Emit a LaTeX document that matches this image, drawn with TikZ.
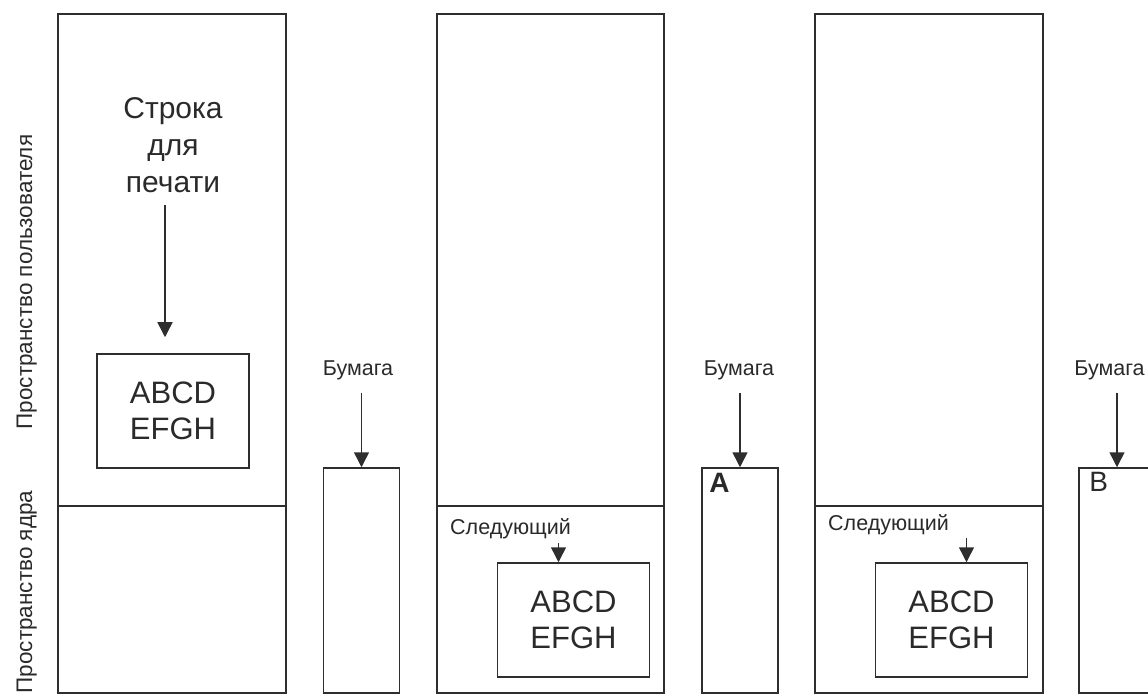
\documentclass[tikz,border=0pt]{standalone}
\usepackage{fontspec}
\setmainfont{Liberation Sans}
\usepackage{xcolor}
\usepackage{tikz}
\usetikzlibrary{arrows.meta,positioning,calc}
\definecolor{spLine}{HTML}{2E2E2E}
\definecolor{spInk}{HTML}{2A2A2A}
\tikzset{
  frame box/.style={draw=spLine,line width=1.5pt},
  buffer box/.style={frame box,minimum width=152pt,minimum height=114pt,inner sep=0pt,
    align=center,text=spInk,font=\fontsize{31}{36}\selectfont},
  paper box/.style={frame box,minimum width=76pt,minimum height=225pt,inner sep=0pt},
  title text/.style={align=center,inner sep=0pt,text=spInk,font=\fontsize{30}{37}\selectfont},
  small label/.style={inner sep=1pt,text=spInk,font=\fontsize{21.5}{26}\selectfont},
  side label/.style={rotate=90,anchor=base,inner sep=0pt,text=spInk,font=\fontsize{22.5}{27}\selectfont},
  letter mark/.style={anchor=base west,inner sep=0pt,text=spInk,font=\fontsize{28}{32}\selectfont},
  feed arrow/.style={-{Triangle[length=15pt,width=15pt]},line width=1.5pt,draw=spLine}
}
\begin{document}
\begin{tikzpicture}[x=1pt,y=-1pt]
\useasboundingbox (0,0) rectangle (1148,700);
\clip (0,0) rectangle (1148,700);
% side labels
\node[side label] (userspace) at (32,282) {Пространство пользователя};
\node[side label] (kernelspace) at (32,592) {Пространство ядра};
% step 1
\draw[frame box] (58,14) rectangle (286,693); \draw[frame box] (58,506) -- (286,506);
\node[title text] (line1) at (173,145) {Строка\\для\\печати};
\node[buffer box] (buf1) at (173,411) {ABCD\\EFGH};
\draw[feed arrow] ($(line1.south)+(-8,12)$) -- ($(buf1.north)+(-8,-16)$);
\node[paper box] (paper1) at (361.5,580.5) {};
\node[small label,anchor=base] (lab1) at (358,375) {Бумага};
\draw[feed arrow] ($(paper1.north |- lab1.south)+(0,12)$) -- (paper1.north);
% step 2
\draw[frame box] (437,14) rectangle (664,693); \draw[frame box] (437,506) -- (664,506);
\node[buffer box] (buf2) at (573.5,620) {ABCD\\EFGH};
\node[small label,anchor=base west] (next2) at (449,534) {Следующий};
\draw[feed arrow] ($(buf2.north |- next2.south)+(-15,3)$) -- ($(buf2.north)+(-15,0)$);
\node[paper box] (paper2) at (740,580.5) {};
\node[small label,anchor=base] (lab2) at (739,375) {Бумага};
\draw[feed arrow] ($(paper2.north |- lab2.south)+(0,12)$) -- (paper2.north);
\node[letter mark,font=\fontsize{28}{32}\selectfont\bfseries] (markA) at ([xshift=8pt,yshift=-25pt]paper2.north west) {A};
% step 3
\draw[frame box] (815,14) rectangle (1043,693); \draw[frame box] (815,506) -- (1043,506);
\node[buffer box] (buf3) at (951.5,620) {ABCD\\EFGH};
\node[small label,anchor=base west] (next3) at (827,530) {Следующий};
\draw[feed arrow] ($(buf3.north |- next3.south)+(15,2)$) -- ($(buf3.north)+(15,0)$);
\node[paper box] (paper3) at (1117,580.5) {};
\node[small label,anchor=base] (lab3) at (1109.5,375) {Бумага};
\draw[feed arrow] ($(paper3.north |- lab3.south)+(0,12)$) -- (paper3.north);
\node[letter mark] (markB) at ([xshift=11pt,yshift=-24pt]paper3.north west) {B};
\end{tikzpicture}
\end{document}
